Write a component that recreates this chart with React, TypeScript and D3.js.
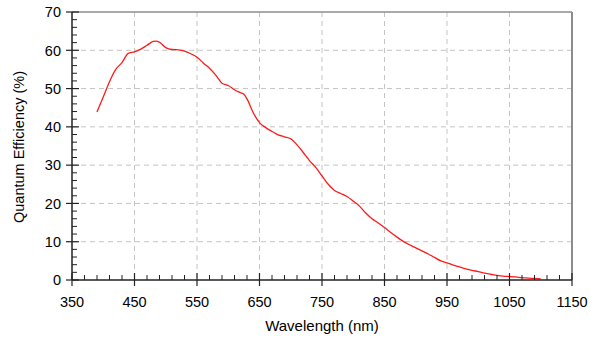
import React from "react";
import * as d3 from "d3";

const wavelengths = [390,400,410,420,430,440,450,460,470,480,485,490,500,510,520,530,540,550,560,570,580,590,600,610,620,625,630,640,650,660,670,680,690,700,710,720,730,740,750,760,770,780,790,800,810,820,830,840,850,860,870,880,890,900,910,920,930,940,950,960,970,980,990,1000,1010,1020,1030,1040,1050,1060,1070,1080,1090,1100];
const qe = [43.9,47.8,51.8,55.0,56.8,59.2,59.6,60.3,61.3,62.3,62.4,62.1,60.7,60.2,60.1,59.8,59.1,58.2,56.7,55.3,53.5,51.4,50.8,49.7,48.9,48.5,47.3,43.7,41.1,39.8,38.8,37.9,37.4,36.9,35.3,33.3,31.2,29.4,27.2,25.0,23.4,22.6,21.8,20.6,19.3,17.5,16.0,14.9,13.7,12.4,11.2,10.1,9.2,8.4,7.6,6.8,5.9,5.0,4.5,3.9,3.4,2.9,2.5,2.2,1.8,1.5,1.2,1.0,0.9,0.8,0.6,0.5,0.4,0.3];
const xTicks = [350,450,550,650,750,850,950,1050,1150];
const yTicks = [0,10,20,30,40,50,60,70];
const xTitle = "Wavelength (nm)";
const yTitle = "Quantum Efficiency (%)";

export default function App() {
  const W = 595, H = 340;
  const left = 72, right = 572, top = 12, bottom = 280;
  const x = d3.scaleLinear().domain([350, 1150]).range([left, right]);
  const y = d3.scaleLinear().domain([0, 70]).range([bottom, top]);
  const line = d3.line<number>().x((_, i) => x(wavelengths[i])).y(d => y(d)).curve(d3.curveMonotoneX);
  const xMinor = d3.range(350, 1150.1, 20).filter(v => (v - 350) % 100 !== 0);
  const yMinor = d3.range(0, 70.1, 2).filter(v => v % 10 !== 0);
  const font = "Arial, 'Liberation Sans', sans-serif";
  return (
    <svg width={W} height={H} style={{ position: "absolute", left: 0, top: 0 }} fontFamily={font}>
      <rect width={W} height={H} fill="#fff" />
      {xTicks.slice(1, -1).map(v => (
        <line key={"gx" + v} x1={x(v)} x2={x(v)} y1={top} y2={bottom} stroke="#c4c4c4" strokeDasharray="5,4" />
      ))}
      {yTicks.slice(1, -1).map(v => (
        <line key={"gy" + v} x1={left} x2={right} y1={y(v)} y2={y(v)} stroke="#c4c4c4" strokeDasharray="5,4" />
      ))}
      <line x1={left} x2={right} y1={top} y2={top} stroke="#8c8c8c" strokeWidth={1.5} />
      <line x1={right} x2={right} y1={top} y2={bottom} stroke="#8c8c8c" strokeWidth={2} />
      <path d={line(qe) || ""} fill="none" stroke="#ff1a1a" strokeWidth={1.3} />
      <line x1={left} x2={right} y1={bottom} y2={bottom} stroke="#222" strokeWidth={1.5} />
      <line x1={left} x2={left} y1={top} y2={bottom} stroke="#222" strokeWidth={1.5} />
      {xMinor.map(v => (
        <line key={"xm" + v} x1={x(v)} x2={x(v)} y1={bottom} y2={bottom - 5} stroke="#222" />
      ))}
      {xTicks.map(v => (
        <line key={"xt" + v} x1={x(v)} x2={x(v)} y1={bottom - 7} y2={bottom + 6} stroke="#222" strokeWidth={1.2} />
      ))}
      {yMinor.map(v => (
        <line key={"ym" + v} x1={left} x2={left + 5} y1={y(v)} y2={y(v)} stroke="#222" />
      ))}
      {yTicks.map(v => (
        <line key={"yt" + v} x1={left - 6} x2={left + 7} y1={y(v)} y2={y(v)} stroke="#222" strokeWidth={1.2} />
      ))}
      {xTicks.map(v => (
        <text key={"xl" + v} x={x(v)} y={306.5} textAnchor="middle" fontSize={14.5} fill="#000">{v}</text>
      ))}
      {yTicks.map(v => (
        <text key={"yl" + v} x={61} y={y(v)} dy="0.36em" textAnchor="end" fontSize={14.5} fill="#000">{v}</text>
      ))}
      <text x={322} y={331} textAnchor="middle" fontSize={15} fill="#000">{xTitle}</text>
      <text transform={`translate(24,${(top + bottom) / 2 + 1}) rotate(-90)`} textAnchor="middle" fontSize={14.5} fill="#000">{yTitle}</text>
    </svg>
  );
}
